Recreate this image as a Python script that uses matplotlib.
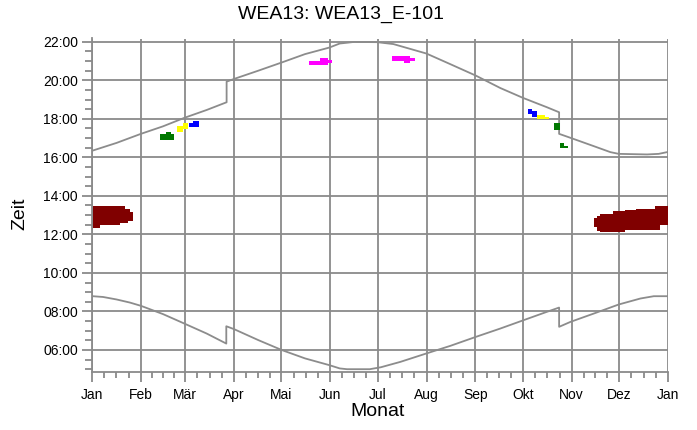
import numpy as np
import matplotlib.pyplot as plt

plt.rcParams['font.family'] = ['Liberation Sans', 'DejaVu Sans']

# Monatsanfänge (Tag im Jahr) und Beschriftungen
month_starts = [0, 31, 59, 90, 120, 151, 181, 212, 243, 273, 304, 334, 365]
month_labels = ['Jan', 'Feb', 'Mär', 'Apr', 'Mai', 'Jun', 'Jul', 'Aug',
                'Sep', 'Okt', 'Nov', 'Dez', 'Jan']

# Sonnenuntergang (Tag, Stunde) – doppelte Tage = Zeitumstellung
sunset_day = [0.4, 15.6, 31, 45, 58.5, 72.7, 85.3, 85.3, 90, 105.4, 120.4, 135,
              150.4, 157, 161.6, 165.8, 180.6, 191, 211.9, 227, 243.3, 258.7,
              273.3, 288.3, 296, 296, 303.3, 318, 328.5, 333.8, 351.7, 359.1, 364.4]
sunset_h = [16.35, 16.75, 17.22, 17.61, 18.05, 18.46, 18.86, 19.93, 20.07, 20.50,
            20.93, 21.36, 21.70, 21.91, 21.95, 21.99, 21.98, 21.88, 21.39, 20.84,
            20.24, 19.60, 19.08, 18.60, 18.34, 17.22, 17.01, 16.58, 16.27, 16.18,
            16.15, 16.18, 16.27]

# Sonnenaufgang
sunrise_day = [0.4, 7, 15.6, 24, 31, 45, 58.5, 72.7, 85.1, 85.1, 90, 105.4, 120.4,
               135, 150.4, 157, 161.6, 176, 183, 195.4, 212, 227, 243.3, 258.7,
               273.3, 288.3, 296, 296, 303.3, 318, 333.8, 347.5, 356, 364.4]
sunrise_h = [8.79, 8.75, 8.62, 8.46, 8.29, 7.86, 7.37, 6.85, 6.33, 7.23, 7.08, 6.51,
             5.99, 5.56, 5.21, 5.04, 5.00, 5.00, 5.10, 5.38, 5.82, 6.21, 6.68, 7.11,
             7.54, 7.98, 8.20, 7.20, 7.46, 7.89, 8.36, 8.67, 8.79, 8.79]

# Schattenwurf-Zeiträume: Tage, untere und obere Zeitgrenze (Stunden)
maroon_jan_day = [0.6, 5, 17.7, 20.7, 23, 24, 26]
maroon_jan_lo = [12.35, 12.47, 12.57, 12.57, 12.69, 12.69, 12.69]
maroon_jan_hi = [13.45, 13.45, 13.45, 13.30, 13.30, 13.14, 13.14]

maroon_dec_day = [318, 320, 322, 330, 338, 345, 357, 360, 365]
maroon_dec_lo = [12.40, 12.20, 12.12, 12.12, 12.24, 12.24, 12.24, 12.47, 12.47]
maroon_dec_hi = [12.85, 12.98, 13.05, 13.19, 13.25, 13.30, 13.45, 13.45, 13.45]

green_feb_day = [43, 47, 50, 52]
green_feb_lo = [16.92, 16.92, 16.92, 16.92]
green_feb_hi = [17.23, 17.29, 17.23, 17.23]

yellow_mar_day = [54, 57.8, 61]
yellow_mar_lo = [17.34, 17.45, 17.45]
yellow_mar_hi = [17.65, 17.79, 17.79]

blue_mar_day = [61.2, 64, 67.6]
blue_mar_lo = [17.60, 17.60, 17.60]
blue_mar_hi = [17.79, 17.90, 17.90]

magenta_jun_day = [137.7, 144.5, 149.6, 151.9]
magenta_jun_lo = [20.78, 20.78, 20.88, 20.88]
magenta_jun_hi = [20.98, 21.16, 21.04, 21.04]

magenta_jul_day = [190.1, 197.7, 201.5, 204.5]
magenta_jul_lo = [20.98, 20.90, 20.98, 20.98]
magenta_jul_hi = [21.27, 21.27, 21.16, 21.16]

blue_okt_day = [276.3, 278.8, 282]
blue_okt_lo = [18.25, 18.11, 18.11]
blue_okt_hi = [18.53, 18.40, 18.40]

yellow_okt_day = [282, 287, 289.6]
yellow_okt_lo = [18.01, 18.01, 18.01]
yellow_okt_hi = [18.22, 18.11, 18.11]

green_okt_day = [292.8, 296.6]
green_okt_lo = [17.44, 17.44]
green_okt_hi = [17.79, 17.79]

green_nov_day = [296.6, 299, 301.6]
green_nov_lo = [16.46, 16.46, 16.46]
green_nov_hi = [16.72, 16.61, 16.61]

patches = [
    (maroon_jan_day, maroon_jan_lo, maroon_jan_hi, '#800000'),
    (maroon_dec_day, maroon_dec_lo, maroon_dec_hi, '#800000'),
    (green_feb_day, green_feb_lo, green_feb_hi, '#007800'),
    (yellow_mar_day, yellow_mar_lo, yellow_mar_hi, '#ffff00'),
    (blue_mar_day, blue_mar_lo, blue_mar_hi, '#0000ff'),
    (magenta_jun_day, magenta_jun_lo, magenta_jun_hi, '#ff00ff'),
    (magenta_jul_day, magenta_jul_lo, magenta_jul_hi, '#ff00ff'),
    (blue_okt_day, blue_okt_lo, blue_okt_hi, '#0000ff'),
    (yellow_okt_day, yellow_okt_lo, yellow_okt_hi, '#ffff00'),
    (green_okt_day, green_okt_lo, green_okt_hi, '#007800'),
    (green_nov_day, green_nov_lo, green_nov_hi, '#007800'),
]

grid_col = '#8a8a8a'

fig = plt.figure(figsize=(6.97, 4.30), dpi=100)
ax = fig.add_axes([92 / 697, 1 - 371.7 / 430, 576 / 697, (371.7 - 38.5) / 430])

# Gitter
for d in month_starts:
    ax.axvline(d, color=grid_col, lw=1.3, zorder=1)
for h in range(6, 23, 2):
    ax.axhline(h, color=grid_col, lw=1.3, zorder=1)

# Sonnenauf-/untergang
ax.plot(sunset_day, sunset_h, color='#8c8c8c', lw=1.3, zorder=2)
ax.plot(sunrise_day, sunrise_h, color='#8c8c8c', lw=1.3, zorder=2)

# Schattenwurf
for days, lo, hi, col in patches:
    ax.fill_between(days, lo, hi, step='post', color=col, lw=0, zorder=3)

ax.set_xlim(0, 365)
ax.set_ylim(4.87, 22.17)

ax.set_xticks(month_starts)
ax.set_xticklabels(month_labels)
minor_x = []
for a, b in zip(month_starts[:-1], month_starts[1:]):
    minor_x += [a + (b - a) * k / 4 for k in (1, 2, 3)]
ax.set_xticks(minor_x, minor=True)

ax.set_yticks(range(6, 23, 2))
ax.set_yticklabels([f'{h:02d}:00' for h in range(6, 23, 2)])
ax.set_yticks(np.arange(5, 22.01, 0.5), minor=True)

ax.tick_params(axis='both', which='both', colors=grid_col, labelcolor='black',
               labelsize=10, direction='out', width=1.3)
ax.tick_params(axis='x', which='major', length=7, pad=5)
ax.tick_params(axis='x', which='minor', length=4)
ax.tick_params(axis='y', which='major', length=7, pad=3)
ax.tick_params(axis='y', which='minor', length=5)

for side in ('top', 'right'):
    ax.spines[side].set_visible(False)
for side in ('left', 'bottom'):
    ax.spines[side].set_color(grid_col)
    ax.spines[side].set_linewidth(1.3)

fig.text(341 / 697, 1 - 14 / 430, 'WEA13: WEA13_E-101', ha='center', va='center',
         fontsize=14)
fig.text(378 / 697, 1 - 412 / 430, 'Monat', ha='center', va='center', fontsize=14)
fig.text(20 / 697, 1 - 214 / 430, 'Zeit', ha='center', va='center', fontsize=14,
         rotation=90)

fig.savefig('out.png', dpi=100)
